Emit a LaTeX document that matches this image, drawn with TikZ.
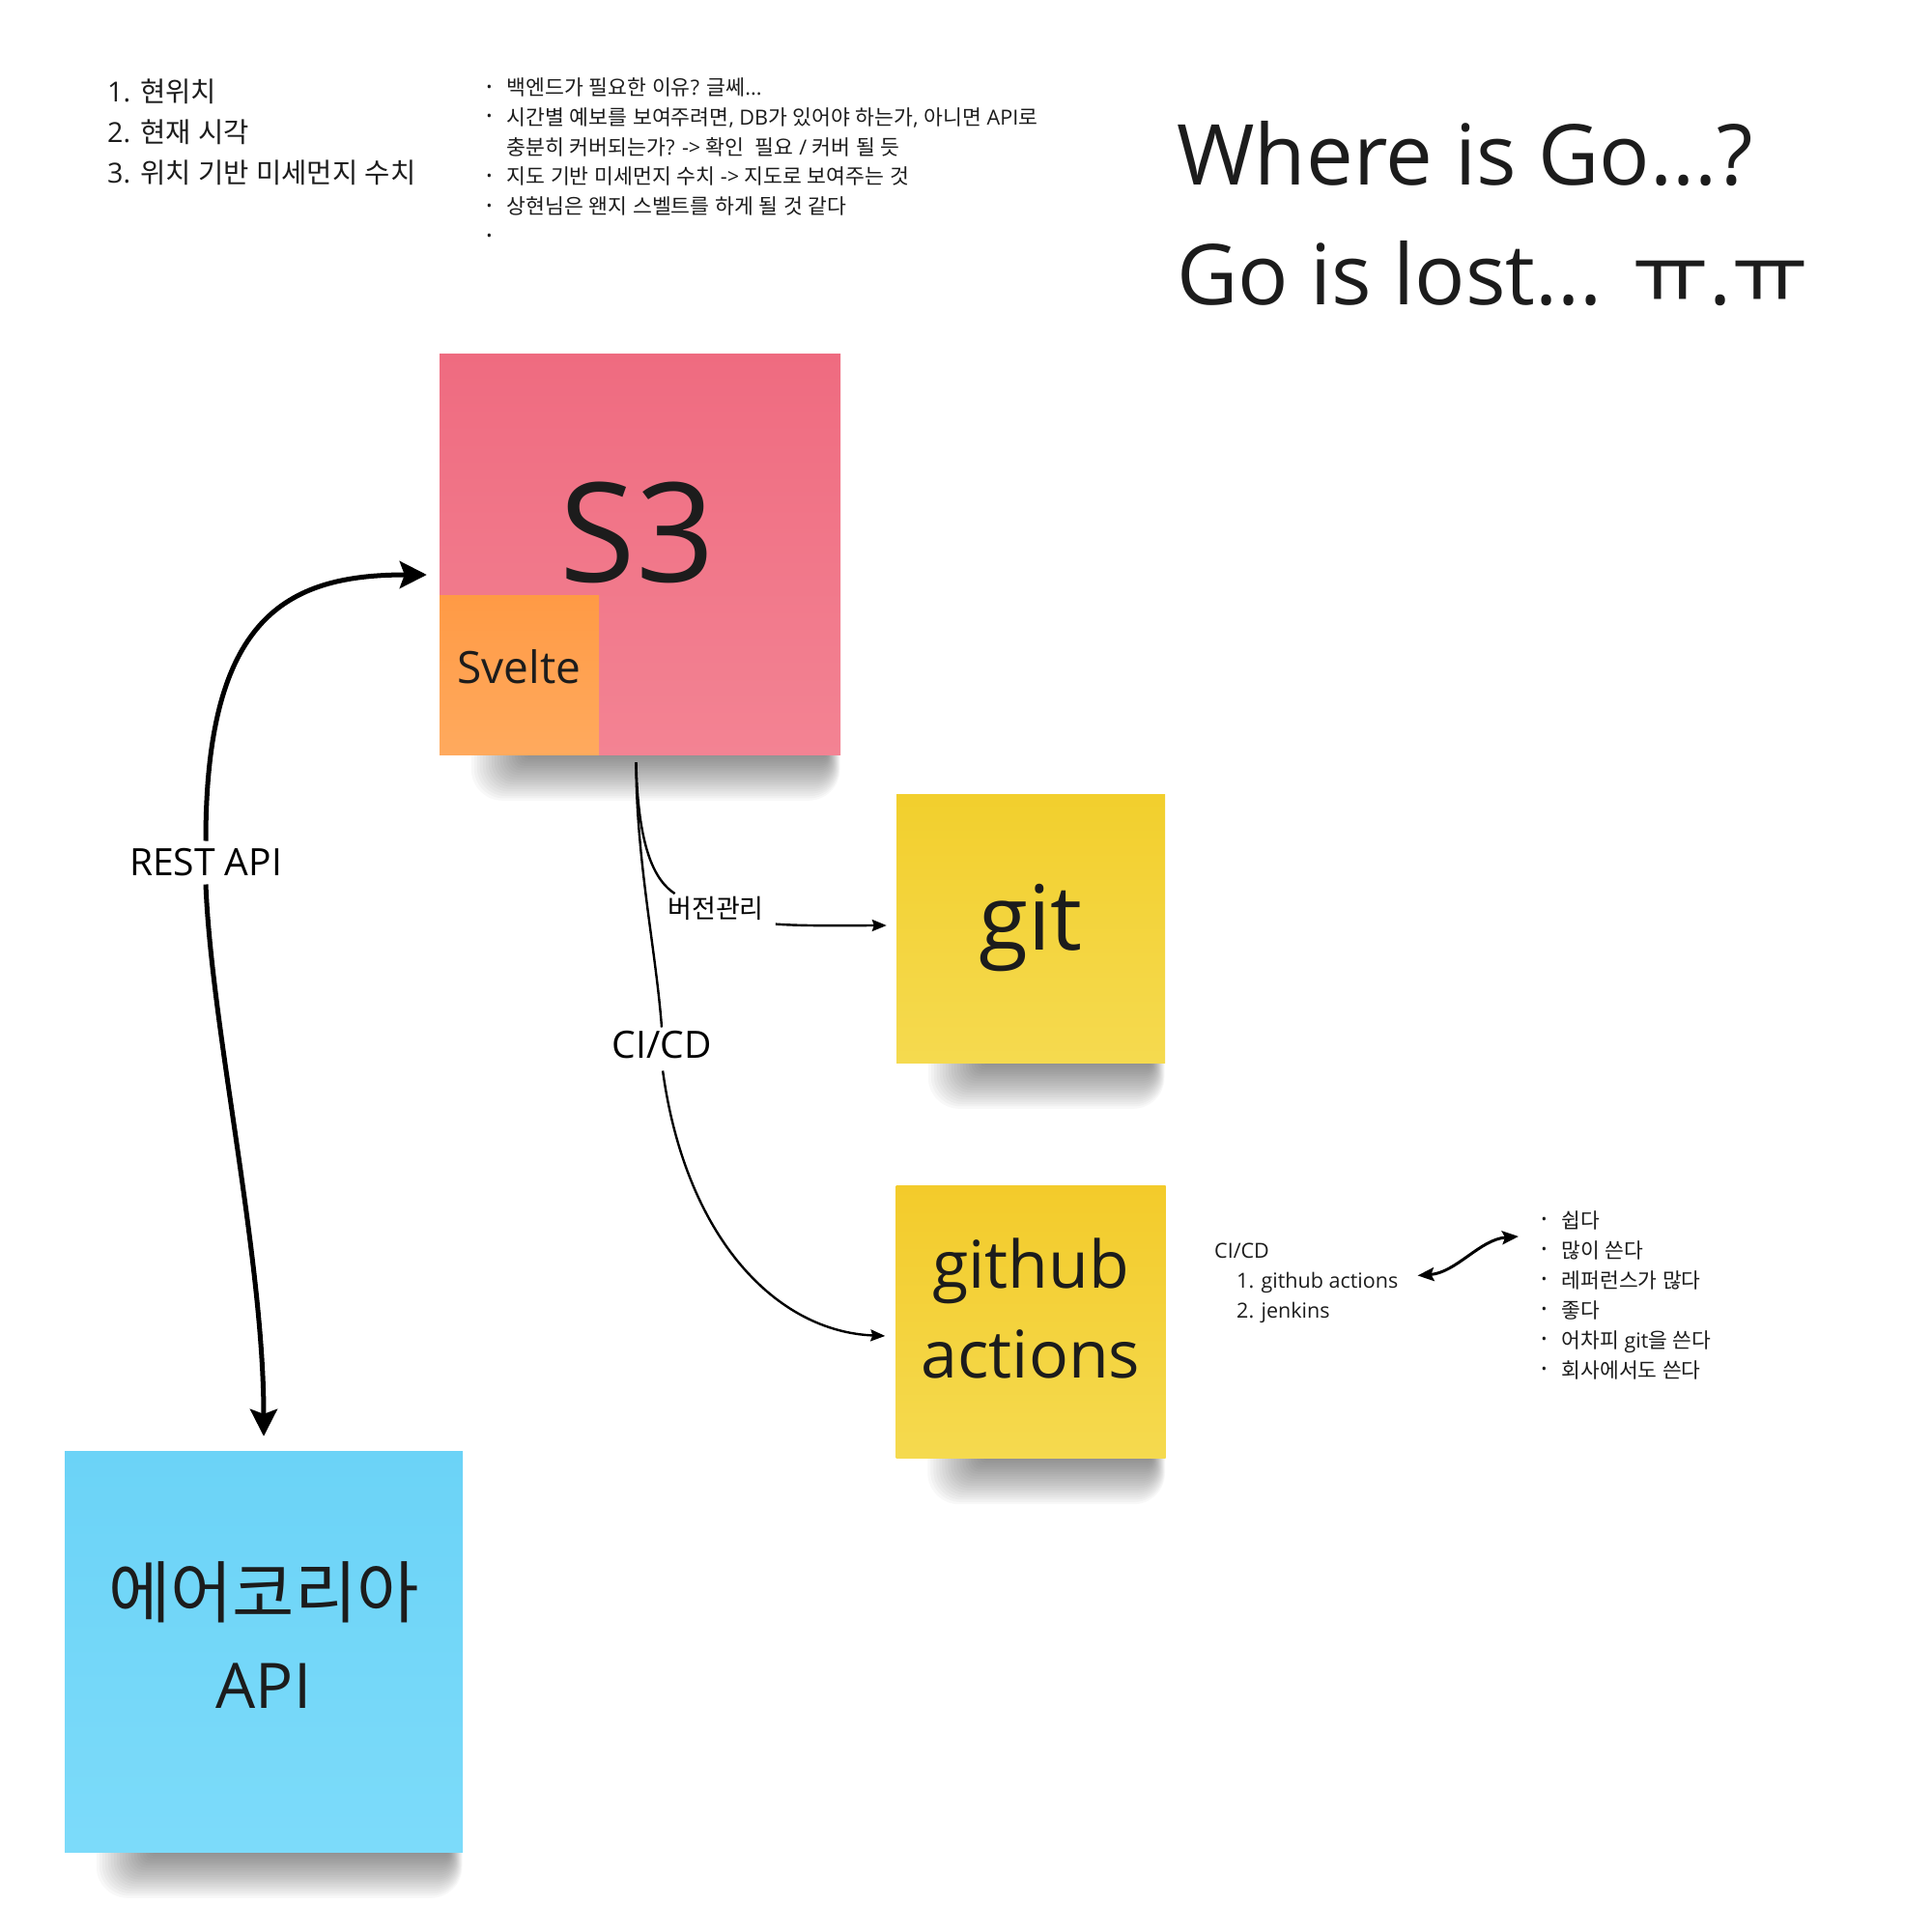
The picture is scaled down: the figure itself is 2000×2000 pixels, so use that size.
\documentclass[tikz,border=0pt]{standalone}
\usepackage{fontspec}
\setmainfont{Open Sans}
\newfontfamily\krfont{Noto Sans CJK KR}
\usetikzlibrary{arrows.meta,backgrounds,calc,positioning}

% hangul goes to the korean font
\XeTeXinterchartokenstate=1
\newXeTeXintercharclass\hangulclass
\newcount\hgc
\hgc="AC00
\loop\XeTeXcharclass\hgc=\hangulclass
  \ifnum\hgc<"D7A3 \advance\hgc by 1 \repeat
\hgc="3131
\loop\XeTeXcharclass\hgc=\hangulclass
  \ifnum\hgc<"318E \advance\hgc by 1 \repeat
\XeTeXinterchartoks 0 \hangulclass = {\begingroup\krfont}
\XeTeXinterchartoks 4095 \hangulclass = {\begingroup\krfont}
\XeTeXinterchartoks \hangulclass 0 = {\endgroup}
\XeTeXinterchartoks \hangulclass 4095 = {\endgroup}

\definecolor{inkc}{HTML}{1C1C1C}
\definecolor{pinktop}{HTML}{EF6B80}
\definecolor{pinkbot}{HTML}{F38393}
\definecolor{orangetop}{HTML}{FF9A45}
\definecolor{orangebot}{HTML}{FFAA5E}
\definecolor{yellowtop}{HTML}{F2CF2D}
\definecolor{yellowbot}{HTML}{F5DA4F}
\definecolor{bluetop}{HTML}{6BD3F7}
\definecolor{bluebot}{HTML}{7CDBFA}

\newcommand{\fsz}[2]{\fontsize{#1}{#2}\selectfont}
\newcommand{\bul}{\makebox[21pt][l]{\raisebox{3.5pt}{\scalebox{0.7}{\textbullet}}}}
\newcommand{\nobul}{\hspace*{21pt}}

% soft shadow under a sticky note
\newcommand{\noteshadow}[1]{%
  \begin{scope}[on background layer]
    \foreach \k [evaluate=\k as \rc using 4+1.5*\k] in {0,...,19}
      \fill[black, opacity=0.026, rounded corners=\rc pt]
        ($(#1.south west)+(90-3*\k,-30)$) rectangle ($(#1.south east)+(-14+0.7*\k,2+2.4*\k)$);
  \end{scope}}

\begin{document}
\begin{tikzpicture}[x=1pt, y=-1pt]
        % Styles
        \tikzstyle{note} = [rectangle, inner sep=0pt, minimum size=415pt]
        \tikzstyle{notetext} = [inner sep=0pt, anchor=base, text=inkc]
        \tikzstyle{memo} = [inner sep=0pt, anchor=base west, text=inkc]
        \tikzstyle{flow} = [line width=2.4pt, -{Stealth[length=15pt, width=12pt, inset=2pt]}]
        \tikzstyle{restline} = [line width=5pt, -{Stealth[length=28pt, width=28pt, inset=5pt]}]

        \useasboundingbox (0,0) rectangle (2000,2000);

        % Memos
        \foreach \mt [count=\i from 0] in {{1. 현위치},{2. 현재 시각},{3. 위치 기반 미세먼지 수치}}
            \node (todo\i) [memo, font=\fsz{28.6}{34}] at (111, 105+42*\i) {\mt};
        \foreach \mt [count=\i from 0] in {{\bul 백엔드가 필요한 이유? 글쎄..{}.},
                {\bul 시간별 예보를 보여주려면, DB가 있어야 하는가, 아니면 API로},
                {\nobul 충분히 커버되는가? -> 확인~ 필요 / 커버 될 듯},
                {\bul 지도 기반 미세먼지 수치 -> 지도로 보여주는 것},
                {\bul 상현님은 왠지 스벨트를 하게 될 것 같다},
                {\bul}}
            \node (idea\i) [memo, font=\fsz{21.6}{26}] at (503.5, 98.5+30.8*\i) {\mt};

        \node (where) [memo, font=\fsz{87}{100}] at (1218,191) {Where is Go...?};
        \node (lost)  [memo, font=\fsz{87}{100}] at (1218,315) {Go is lost... ㅠ.ㅠ};

        % Sticky notes
        \node (s3)     [note, top color=pinktop, bottom color=pinkbot] at (662.5,573.5) {};
        \node (svelte) [note, minimum size=165pt, anchor=south west,
                        top color=orangetop, bottom color=orangebot] at (s3.south west) {};
        \node (git)    [note, minimum size=278pt, top color=yellowtop, bottom color=yellowbot] at (1067,961) {};
        \node (gha)    [note, minimum width=279pt, minimum height=282pt, anchor=north,
                        top color=yellowtop!95!orange, bottom color=yellowbot] at ([yshift=-127pt]git.south) {};
        \node (air)    [note, minimum width=412pt, top color=bluetop, bottom color=bluebot] at (273,1709.5) {};

        \noteshadow{s3}
        \noteshadow{git}
        \noteshadow{gha}
        \noteshadow{air}

        \node (s3txt)     [notetext, font=\fsz{143}{150}] at ([xshift=-2.5pt, yshift=-28.5pt]s3.center) {S3};
        \node (sveltetxt) [notetext, font=\fsz{46}{50}] at ([yshift=-9pt]svelte.center) {Svelte};
        \node (gittxt)    [notetext, font=\fsz{93}{100}] at ([yshift=-22pt]git.center) {git};
        \node (ghatxt)    [notetext, font=\fsz{68}{70}] at ([yshift=35pt]gha.center) {github};
        \node (ghatxt2)   [notetext, font=\fsz{68}{70}] at ([yshift=-58pt]gha.center) {actions};
        \node (airtxt)    [notetext, font=\fsz{70}{75}] at ([yshift=35.5pt]air.center) {에어코리아};
        \node (airtxt2)   [notetext, font=\fsz{65}{70}] at ([yshift=-58.5pt]air.center) {API};

        % Edge labels
        \node (rest) [font=\fsz{39}{40}, inner xsep=4pt, inner ysep=8pt] at (213,893) {REST API};
        \node (ver)  [font=\fsz{27}{30}, inner sep=3pt] at (741,940.5) {버전관리};
        \node (cicd) [font=\fsz{39}{40}, inner sep=4pt] at (685,1082) {CI/CD};

        % CI/CD memo and reasons
        \node (cinote) [memo, font=\fsz{21.5}{25}] at (1257,1302) {CI/CD};
        \foreach \mt [count=\i] in {github actions, jenkins}
            \node (cinote\i) [memo, font=\fsz{21.5}{25}] at (1280, 1302+31*\i) {\i. \mt};
        \foreach \mt [count=\i from 0] in {쉽다, 많이 쓴다, 레퍼런스가 많다, 좋다, 어차피 git을 쓴다, 회사에서도 쓴다}
            \node (pro\i) [memo, font=\fsz{21.5}{25}] at (1595.5, 1271+31*\i) {\bul\mt};

        % Edges
        \draw[restline, shorten >=13pt] (rest.north) .. controls +(0,-230) and +(-160,0) .. ([yshift=-21.5pt]s3.west);
        \draw[restline, shorten >=15pt] (rest.south) .. controls +(6,150) and +(0,-200) .. (air.north);

        \draw[line width=2.4pt] ([xshift=-4pt, yshift=-8pt]s3.south) .. controls +(0,100) and +(-6,-80) .. (cicd.north);
        \draw[flow, shorten <=8pt, shorten >=11pt] (cicd.south) .. controls +(25,182) and +(-123,-5) .. ([yshift=-15pt]gha.west);

        \draw[line width=2.4pt] ([xshift=-4pt, yshift=-8pt]s3.south) .. controls +(2,91) and +(-20,-13) .. (ver.160);
        \draw[flow, shorten <=9pt, shorten >=10pt] (ver.south east) .. controls +(40,3) and +(-40,0) .. ([yshift=3pt]git.west);

        \draw[line width=3pt, {Stealth[length=17pt, width=14pt, inset=3pt]}-{Stealth[length=17pt, width=14pt, inset=3pt]}]
            ($(cinote1.east)+(20,-7)$) .. controls +(40,-3) and +(-40,3) .. ($(pro0.west)+(-23.5,17)$);

    \end{tikzpicture}
\end{document}
